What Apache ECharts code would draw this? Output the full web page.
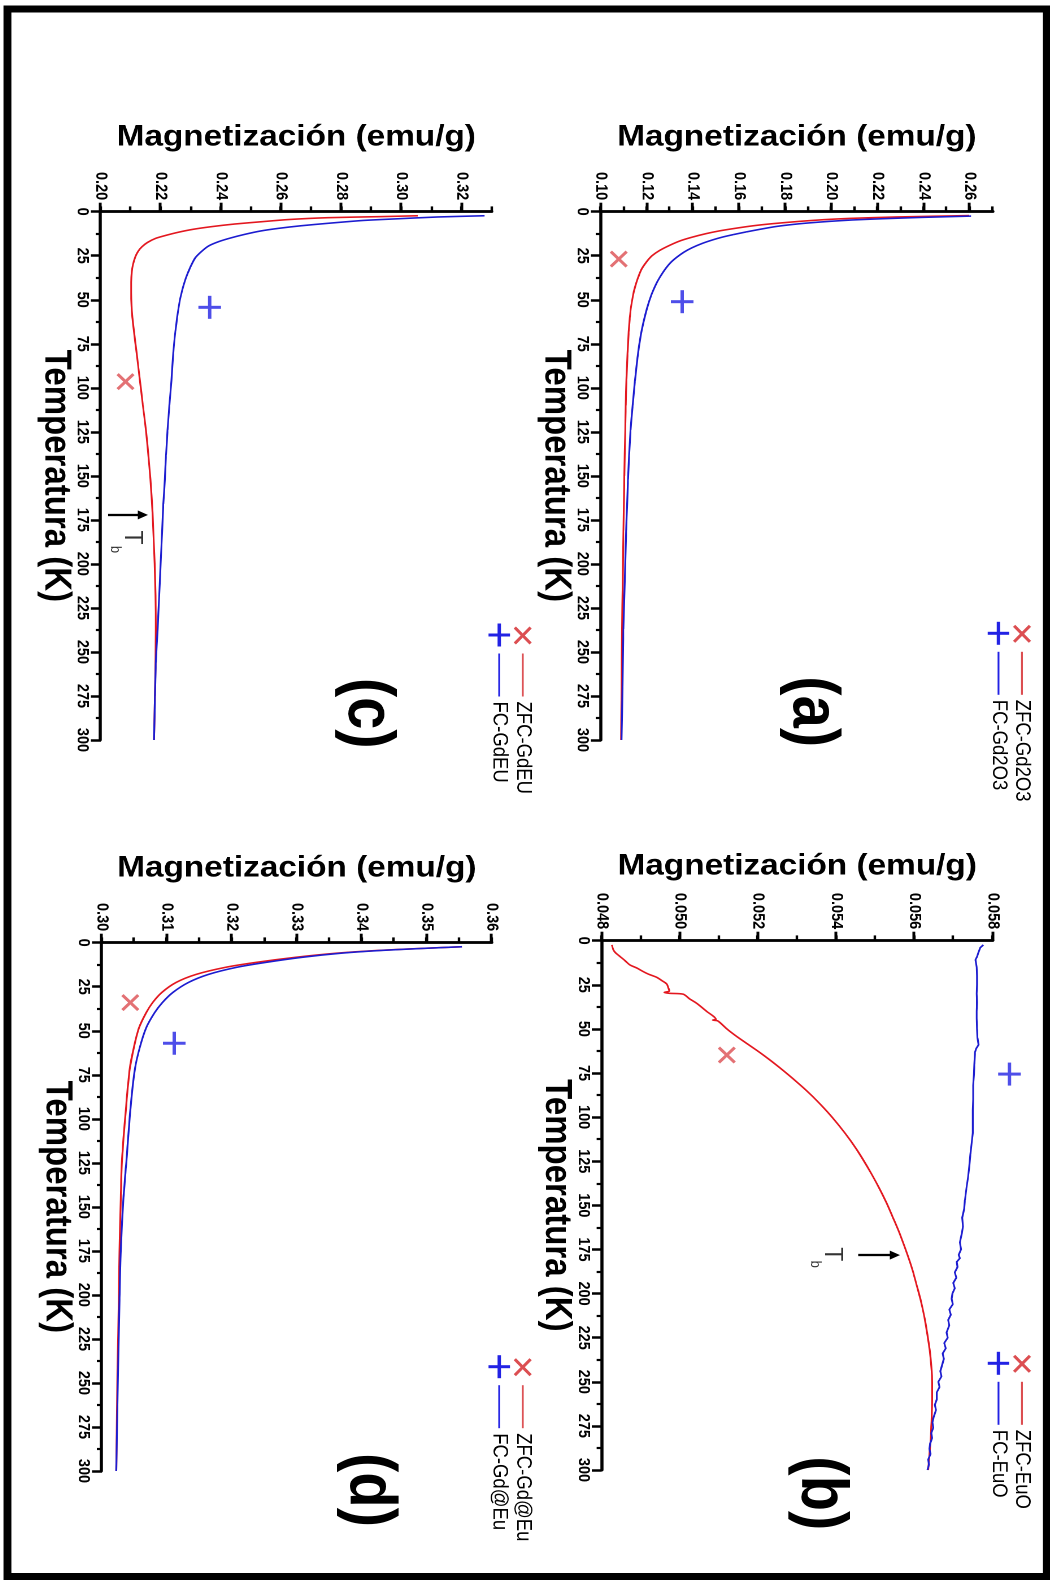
<!DOCTYPE html>
<html><head><meta charset="utf-8">
<script src="https://cdn.jsdelivr.net/npm/echarts@6/dist/echarts.min.js"></script>
<style>
html,body{margin:0;padding:0;background:#fff;overflow:hidden;width:1050px;height:1580px;}
#chart{position:absolute;left:0;top:0;width:1580px;height:929px;transform-origin:0 0;transform:translate(1050px,0) scale(1.13,1) rotate(90deg);}
</style></head><body><div id="chart"></div>
<script>
// ---------------- DATA ----------------
const tempRange = [0, 300], tempStep = 25;

const magTicksA = [0.10,0.12,0.14,0.16,0.18,0.20,0.22,0.24,0.26], magRangeA = [0.10,0.27], magMinorA = 0.01;
const magTicksB = [0.048,0.050,0.052,0.054,0.056,0.058], magRangeB = [0.048,0.058], magMinorB = 0.001;
const magTicksC = [0.20,0.22,0.24,0.26,0.28,0.30,0.32], magRangeC = [0.20,0.33], magMinorC = 0.01;
const magTicksD = [0.30,0.31,0.32,0.33,0.34,0.35,0.36], magRangeD = [0.30,0.36], magMinorD = 0.005;

const seriesNames = [['ZFC-Gd2O3','FC-Gd2O3'],['ZFC-EuO','FC-EuO'],['ZFC-GdEU','FC-GdEU'],['ZFC-Gd@Eu','FC-Gd@Eu']];
const panelTags = ['(a)','(b)','(c)','(d)'];

// (a) Gd2O3  [T (K), M (emu/g)]
const zfcGd2O3 = [[2.2,0.2597],[3,0.228],[3.8,0.208],[4.5,0.197],[5.5,0.186],[6.8,0.1745],[8,0.166],[9.5,0.158],[11,0.151],[12.5,0.1455],[14.5,0.1395],[16.5,0.1345],[19,0.1300],[22,0.1255],[25,0.1222],[28.5,0.1198],[33,0.1175],[38,0.1160],[43,0.1148],[48,0.1139],[54,0.1131],[60,0.1126],[68,0.1121],[80,0.1116],[95,0.1111],[110,0.1108],[124,0.1106],[150,0.1102],[181,0.1098],[210,0.1095],[237,0.1092],[270,0.1090],[300,0.1088]];
const fcGd2O3 = [[2.5,0.2605],[3.2,0.240],[4,0.222],[4.7,0.209],[5.5,0.199],[6.5,0.189],[7.5,0.1815],[8.5,0.1755],[10,0.1690],[11.5,0.1630],[13,0.1575],[14.5,0.1525],[16,0.1485],[18,0.1440],[20.5,0.1395],[23,0.1360],[26,0.1328],[29,0.1302],[33,0.1277],[37,0.1257],[41,0.1240],[47,0.1220],[55,0.1200],[67,0.1178],[80,0.1162],[96,0.1148],[110,0.1138],[124,0.1129],[138,0.1123],[152,0.1118],[166,0.1114],[181,0.1110],[210,0.1104],[237,0.1098],[270,0.1094],[300,0.1090]];
const zfcMarkA = [26.9, 0.1078], fcMarkA = [51.1, 0.1353];

// (b) EuO
const zfcEuO = [[2.4,0.04826],[5.3,0.04830],[7,0.04836],[9,0.04847],[11,0.04858],[13.7,0.04872],[15.5,0.04890],[17.5,0.04906],[19,0.04920],[20.7,0.04940],[22.5,0.04953],[24.5,0.04966],[26.5,0.04970],[28.5,0.04973],[29.3,0.04960],[29.8,0.04972],[30.3,0.05008],[33,0.05025],[35.5,0.05043],[40,0.05068],[44.5,0.05092],[45,0.05084],[45.5,0.05097],[50,0.05120],[54.4,0.05146],[59,0.05176],[63.8,0.05207],[70,0.05244],[78,0.05288],[85,0.05324],[92,0.05356],[100,0.05389],[109,0.05422],[118,0.05451],[128,0.05479],[137,0.05502],[147,0.05525],[156,0.05543],[166,0.05562],[178,0.05582],[186,0.05594],[194,0.05604],[203,0.05615],[213,0.05625],[222,0.05632],[232,0.05639],[241,0.05643],[251,0.05645],[260,0.05645],[270,0.05644],[280,0.05642],[289,0.05639],[300,0.05635]];
const fcEuO = [[2.4,0.05776],[4,0.05768],[7,0.05763],[9,0.05760],[10.8,0.05756],[11,0.05760],[15,0.05759],[20,0.05760],[25,0.05760],[30,0.05759],[35,0.05760],[40,0.05759],[44,0.05759],[50,0.05760],[55,0.05761],[59,0.05764],[61,0.05758],[63,0.05755],[70,0.05753],[76,0.05752],[82,0.05750],[90,0.05750],[96,0.05749],[101,0.05749],[109,0.05749],[115,0.05746],[121,0.05743],[128,0.05740],[134,0.05737],[140,0.05733],[147,0.05729],[152,0.05727],[157,0.05722],[162,0.05724],[166,0.05721],[171,0.05716],[175,0.05719],[178,0.05713],[180,0.05716],[182,0.05708],[185,0.05710],[188,0.05703],[191,0.05707],[194,0.05699],[197,0.05703],[200,0.05697],[203,0.05695],[206,0.05698],[209,0.05689],[212,0.05693],[215,0.05686],[218,0.05689],[222,0.05682],[225,0.05685],[228,0.05676],[231,0.05680],[234,0.05672],[237,0.05675],[241,0.05670],[244,0.05666],[247,0.05669],[250,0.05661],[253,0.05664],[256,0.05657],[260,0.05657],[263,0.05652],[266,0.05655],[270,0.05649],[273,0.05646],[276,0.05648],[279,0.05643],[282,0.05645],[285,0.05640],[288,0.05638],[291,0.05641],[294,0.05635],[297,0.05637],[300,0.05633]];
const zfcMarkB = [64.8, 0.0512], fcMarkB = [75.6, 0.05843];
const tbArrowB = [[178.2, 0.05456],[178.2, 0.05550]];
const tbTextB = [177.7, 0.05390], tbSubB = [183.4, 0.05346];

// (c) GdEU
const zfcGdEU = [[2.3,0.3054],[2.8,0.293],[3.4,0.2755],[4.5,0.262],[5.7,0.2534],[7,0.2445],[8.5,0.2368],[10,0.2307],[11.7,0.2257],[13.5,0.2215],[15.1,0.2183],[17.5,0.2155],[19.9,0.2137],[22.5,0.2124],[25.5,0.2115],[30,0.2107],[34,0.2103],[40,0.2101],[46,0.2101],[53,0.2102],[60,0.2105],[67.6,0.2110],[80,0.2119],[95.6,0.2130],[110,0.2140],[124,0.2150],[138,0.2158],[152,0.2165],[171,0.2172],[200,0.2179],[218,0.2182],[237,0.2183],[256,0.2182],[275,0.2180],[300,0.2177]];
const fcGdEU = [[2.3,0.3276],[3,0.312],[4.1,0.2977],[5,0.287],[6.6,0.2755],[8,0.2665],[9.5,0.2589],[11,0.2530],[12.9,0.2478],[15,0.2430],[17,0.2392],[19.5,0.2358],[22.7,0.2334],[26,0.2315],[30.3,0.2301],[35,0.2289],[39.7,0.2279],[45,0.2270],[51,0.2262],[60,0.2254],[68,0.2248],[80,0.2241],[95.6,0.2235],[110,0.2228],[124,0.2222],[138,0.2217],[152,0.2213],[166,0.2208],[181,0.2204],[200,0.2199],[219,0.2194],[237,0.2189],[256,0.2183],[275,0.2180],[300,0.2177]];
const zfcMarkC = [96.5, 0.2082], fcMarkC = [54.3, 0.2362];
const tbArrowC = [[172.2, 0.20243],[172.2, 0.2140]];
const tbTextC = [185.0, 0.21047], tbSubC = [191.8, 0.20480];

// (d) Gd@Eu
const zfcGdAtEu = [[2.3,0.3554],[3.2,0.3495],[4.5,0.3420],[6,0.3360],[8.3,0.3298],[11.2,0.3237],[14,0.3190],[18,0.3145],[22.6,0.3114],[28.3,0.3092],[34,0.3078],[39.8,0.3068],[48.4,0.3057],[59.8,0.3049],[71.3,0.3043],[94,0.3037],[122.8,0.3031],[146,0.3029],[175,0.3027],[203,0.3026],[241,0.3024],[300,0.3022]];
const fcGdAtEu = [[2.3,0.3554],[3.2,0.3497],[4.5,0.3425],[6,0.3367],[8.3,0.3308],[11.2,0.3252],[14,0.3207],[18,0.3164],[22.6,0.3133],[28.3,0.3109],[34,0.3093],[39.8,0.3081],[48.4,0.3068],[59.8,0.3058],[71.3,0.3051],[94,0.3044],[122.8,0.3038],[146,0.3033],[175,0.3029],[203,0.3027],[241,0.3025],[300,0.3022]];
const zfcMarkD = [34.0, 0.30436], fcMarkD = [57.1, 0.31112];

// ---------------- STYLE / LAYOUT ----------------
const K = 1.13, W0 = 1580, H0 = 1050 / K;
const FONT = "'Liberation Sans', Arial, Helvetica, sans-serif";
const RED = '#e3171f', BLUE = '#1c1cd0', RED_MARK = '#dc4e51', BLUE_MARK = '#2222e4';
const MARK_X = 'path://M0 2L2 0L17 14L15 16Z M15 0L17 2L2 16L0 14Z';
const MARK_P = 'path://M10 0L13 0L13 20L10 20Z M0 8.5L23 8.5L23 11.5L0 11.5Z';
const ICON_X = 'path://M0 0L0.01 0L0 0.01Z M73 19L72.99 19L73 18.99Z M3 3.5L5 1.5L21 15.5L19 17.5Z M19 1.5L21 3.5L5 17.5L3 15.5Z M30 8.7L73 8.7L73 10.3L30 10.3Z';
const ICON_P = 'path://M0 0L0.01 0L0 0.01Z M73 19L72.99 19L73 18.99Z M10 0L13 0L13 19L10 19Z M0 8L23 8L23 11L0 11Z M30 8.7L73 8.7L73 10.3L30 10.3Z';

const panels = [
  {grid:{left:211.7, top:50.5, width:528.3, height:347}, legend:{left:621.8, top:15.3}, tag:[711.7,210.9],
   ticks:magTicksA, range:magRangeA, minor:magMinorA, dec:2, zfc:zfcGd2O3, fc:fcGd2O3, mx:zfcMarkA, mp:fcMarkA, smoothR:0.2, smoothB:0.2},
  {grid:{left:940.7, top:50.7, width:529.3, height:346}, legend:{left:1351.8, top:15.3}, tag:[1493.3,203.5],
   ticks:magTicksB, range:magRangeB, minor:magMinorB, dec:3, zfc:zfcEuO, fc:fcEuO, mx:zfcMarkB, mp:fcMarkB, smoothR:0.3, smoothB:false,
   arrow:tbArrowB, tbT:tbTextB, tbS:tbSubB},
  {grid:{left:211.7, top:494, width:528.3, height:346}, legend:{left:623.5, top:457.1}, tag:[713.3,604.4],
   ticks:magTicksC, range:magRangeC, minor:magMinorC, dec:2, zfc:zfcGdEU, fc:fcGdEU, mx:zfcMarkC, mp:fcMarkC, smoothR:0.2, smoothB:0.2,
   arrow:tbArrowC, tbT:tbTextC, tbS:tbSubC},
  {grid:{left:942.7, top:494, width:528.3, height:345}, legend:{left:1355.2, top:457.1}, tag:[1490,603.2],
   ticks:magTicksD, range:magRangeD, minor:magMinorD, dec:2, zfc:zfcGdAtEu, fc:fcGdAtEu, mx:zfcMarkD, mp:fcMarkD, smoothR:0.3, smoothB:0.3}
];

const el = document.getElementById('chart');
el.style.height = H0 + 'px';
const chart = echarts.init(el, null, {renderer:'canvas', width:W0, height:H0, devicePixelRatio:2});

const grids = [], xAxes = [], yAxes = [], legends = [], series = [], graphics = [];
const black = '#000';
panels.forEach((p, i) => {
  grids.push(Object.assign({containLabel:false, outerBoundsMode:'none'}, p.grid));
  xAxes.push({
    gridIndex:i, type:'value', position:'bottom', min:tempRange[0], max:tempRange[1], interval:tempStep,
    name:'Temperatura (K)', nameLocation:'middle', nameGap:23.5, nameMoveOverlap:false,
    nameTextStyle:{fontSize:33, fontWeight:'bold', color:black, fontFamily:FONT},
    axisLine:{show:true, onZero:false, lineStyle:{color:black, width:2.8}},
    axisTick:{show:true, inside:false, length:8.8, lineStyle:{color:black, width:2.5}},
    minorTick:{show:true, splitNumber:2, length:4.5, lineStyle:{color:black, width:2.2}},
    axisLabel:{show:true, fontSize:14.5, fontWeight:'bold', color:black, fontFamily:FONT, margin:9},
    splitLine:{show:false}, minorSplitLine:{show:false}
  });
  yAxes.push({
    gridIndex:i, type:'value', position:'left', min:p.range[0], max:p.range[1], interval:p.ticks[1]-p.ticks[0],
    name:'Magnetización (emu/g)', nameLocation:'middle', nameGap:59.5, nameMoveOverlap:false,
    nameTextStyle:{fontSize:29.5, fontWeight:'bold', color:black, fontFamily:FONT},
    axisLine:{show:true, onZero:false, lineStyle:{color:black, width:2.8}},
    axisTick:{show:true, inside:false, length:9, customValues:p.ticks, lineStyle:{color:black, width:2.5}},
    axisLabel:{show:true, customValues:p.ticks, fontSize:14.5, fontWeight:'bold', color:black, fontFamily:FONT, margin:11.5,
      formatter:(v)=> p.ticks.some(t=>Math.abs(t-v)<1e-9) ? Number(v).toFixed(p.dec) : ''},
    splitLine:{show:false}
  });
  yAxes.push({
    gridIndex:i, type:'value', position:'left', min:p.range[0], max:p.range[1], interval:p.minor,
    axisLine:{show:false, onZero:false}, axisLabel:{show:false}, splitLine:{show:false},
    axisTick:{show:true, inside:false, length:5.3, lineStyle:{color:black, width:2.2}}
  });
  const [nz, nf] = seriesNames[i];
  legends.push({
    orient:'vertical', left:p.legend.left, top:p.legend.top, padding:0, itemGap:1.8,
    itemWidth:73, itemHeight:19, selectedMode:false, itemStyle:{borderWidth:0},
    textStyle:{fontSize:18.5, color:black, fontFamily:FONT},
    data:[{name:nz, icon:ICON_X}, {name:nf, icon:ICON_P}]
  });
  const red = {type:'line', name:nz, xAxisIndex:i, yAxisIndex:2*i, data:p.zfc, symbol:'none', showSymbol:false,
    smooth:p.smoothR, lineStyle:{color:RED, width:1.6}, itemStyle:{color:RED_MARK}, z:3, silent:true};
  if (p.arrow) {
    red.markLine = {silent:true, symbol:['none','triangle'], symbolSize:9, animation:false,
      lineStyle:{color:black, width:2.3, type:'solid'}, itemStyle:{color:black}, label:{show:false},
      data:[[{coord:p.arrow[0]}, {coord:p.arrow[1]}]]};
  }
  series.push(red);
  series.push({type:'line', name:nf, xAxisIndex:i, yAxisIndex:2*i, data:p.fc, symbol:'none', showSymbol:false,
    smooth:p.smoothB, lineStyle:{color:BLUE, width:1.6}, itemStyle:{color:BLUE_MARK}, z:3, silent:true});
  series.push({type:'scatter', name:nz+' symbol', xAxisIndex:i, yAxisIndex:2*i, data:[p.mx], symbol:MARK_X,
    symbolSize:[17,16], itemStyle:{color:RED_MARK}, clip:false, silent:true, z:4});
  series.push({type:'scatter', name:nf+' symbol', xAxisIndex:i, yAxisIndex:2*i, data:[p.mp], symbol:MARK_P,
    symbolSize:[23,20], itemStyle:{color:BLUE_MARK}, clip:false, silent:true, z:4});
  if (p.tbT) {
    series.push({type:'scatter', name:'Tb'+i, xAxisIndex:i, yAxisIndex:2*i, data:[p.tbT], symbolSize:1,
      itemStyle:{color:'rgba(0,0,0,0)'}, silent:true, z:5,
      label:{show:true, position:'inside', formatter:'T', color:black, fontSize:23, fontFamily:FONT}});
    series.push({type:'scatter', name:'Tbs'+i, xAxisIndex:i, yAxisIndex:2*i, data:[p.tbS], symbolSize:1,
      itemStyle:{color:'rgba(0,0,0,0)'}, silent:true, z:5,
      label:{show:true, position:'inside', formatter:'b', color:black, fontSize:13, fontFamily:FONT}});
  }
  graphics.push({type:'text', x:p.tag[0], y:p.tag[1], silent:true,
    style:{text:panelTags[i], font:"bold 58px 'Liberation Sans', Arial, sans-serif", fill:black, align:'center', verticalAlign:'middle'}});
});
graphics.push({type:'rect', silent:true, shape:{x:9, y:2.7, width:1567.5, height:919.9},
  style:{fill:'none', stroke:black, lineWidth:7}});

chart.setOption({
  animation:false,
  backgroundColor:'#fff',
  grid:grids, xAxis:xAxes, yAxis:yAxes, legend:legends, series:series, graphic:graphics
});
</script></body></html>
